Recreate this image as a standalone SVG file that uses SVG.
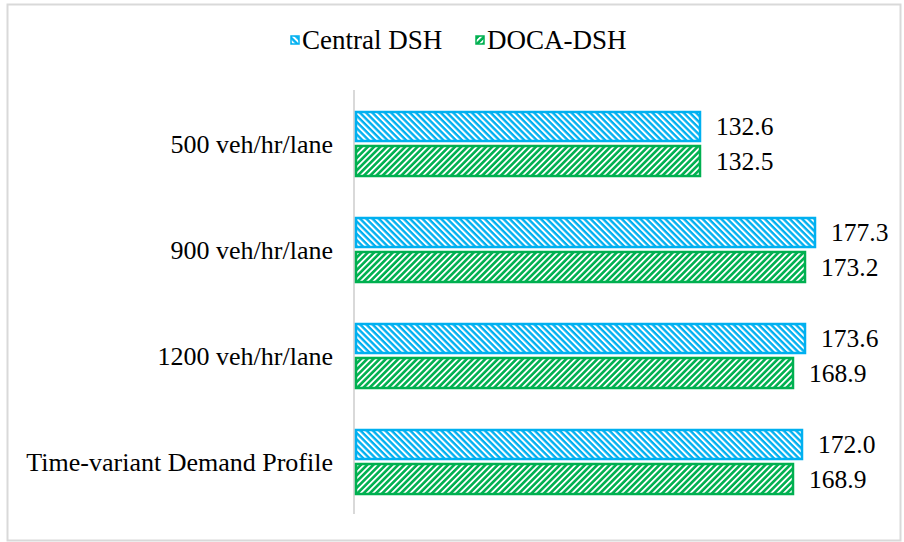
<svg xmlns="http://www.w3.org/2000/svg" width="904" height="542" viewBox="0 0 904 542">
<style>
.t{font-family:"Liberation Serif","Times New Roman",serif;font-size:25.5px;fill:#000}
.lab{text-anchor:end;font-size:26px}
.lg{font-size:27px}
.c{fill:url(#hb);stroke:#00B0F0;stroke-width:2.5}
.d{fill:url(#hg);stroke:#00B050;stroke-width:2.5}
</style>
<defs>
<pattern id="hb" patternUnits="userSpaceOnUse" width="4.4" height="4.4" patternTransform="rotate(-45)">
<rect width="4.4" height="4.4" fill="#00B0F0"/>
<rect width="2" height="4.4" fill="#fff"/>
</pattern>
<pattern id="hg" patternUnits="userSpaceOnUse" width="4.4" height="4.4" patternTransform="rotate(45)">
<rect width="4.4" height="4.4" fill="#00B050"/>
<rect width="1.8" height="4.4" fill="#fff"/>
</pattern>
</defs>
<rect x="0" y="0" width="904" height="542" fill="#fff"/>
<rect x="7.5" y="4.5" width="893" height="536" fill="none" stroke="#d9d9d9" stroke-width="2"/>
<g id="legend">
<rect x="291" y="36" width="8" height="8" fill="url(#hb)" stroke="#00B0F0" stroke-width="1.5"/>
<text class="t lg" x="302" y="49">Central DSH</text>
<rect x="476" y="36" width="8" height="8" fill="url(#hg)" stroke="#00B050" stroke-width="1.5"/>
<text class="t lg" x="487" y="49">DOCA-DSH</text>
</g>
<g id="axis">
<line x1="354" y1="90" x2="354" y2="514" stroke="#d9d9d9" stroke-width="2"/>
</g>
<g id="g500">
<text class="t lab" x="333" y="153">500 veh/hr/lane</text>
<rect class="c" x="356" y="112" width="344" height="29"/>
<text class="t" x="716" y="135">132.6</text>
<rect class="d" x="356" y="146" width="344" height="30"/>
<text class="t" x="716" y="170">132.5</text>
</g>
<g id="g900">
<text class="t lab" x="333" y="259">900 veh/hr/lane</text>
<rect class="c" x="356" y="218" width="459" height="29"/>
<text class="t" x="831" y="241">177.3</text>
<rect class="d" x="356" y="252" width="449" height="30"/>
<text class="t" x="821" y="276">173.2</text>
</g>
<g id="g1200">
<text class="t lab" x="333" y="365">1200 veh/hr/lane</text>
<rect class="c" x="356" y="324" width="449" height="29"/>
<text class="t" x="821" y="347">173.6</text>
<rect class="d" x="356" y="358" width="437" height="30"/>
<text class="t" x="809" y="382">168.9</text>
</g>
<g id="gtv">
<text class="t lab" x="333" y="471">Time-variant Demand Profile</text>
<rect class="c" x="356" y="430" width="446" height="29"/>
<text class="t" x="818" y="453">172.0</text>
<rect class="d" x="356" y="464" width="437" height="30"/>
<text class="t" x="809" y="488">168.9</text>
</g>
</svg>
